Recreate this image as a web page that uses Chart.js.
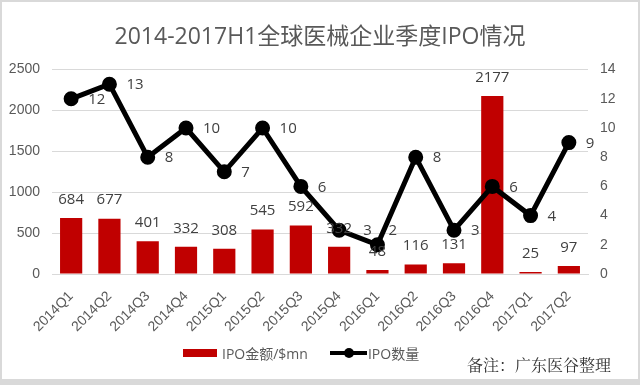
<!DOCTYPE html>
<html>
<head>
  <meta charset="UTF-8">
  <title>2014-2017H1全球医械企业季度IPO情况</title>
  <script src="https://cdn.jsdelivr.net/npm/chart.js"></script>
  <style>
    body { margin: 0; background: #d9d9d9; font-family: "Open Sans", "Noto Sans CJK SC", sans-serif; }
    #wrap { position: absolute; left: 2px; top: 2px; width: 636px; height: 377px; background: #fff; overflow: hidden; }
    #legend { position: absolute; top: 341px; left: 181px; display: flex; align-items: center; font-size: 14px; color: #595959; }
    .bar-key { width: 34px; height: 8px; background: #c00000; margin-right: 5px; }
    .line-key { position: relative; width: 37px; height: 4px; background: #000; margin: 0 1px 0 22px; }
    .line-key::after { content: ""; position: absolute; left: 14px; top: -3px; width: 10px; height: 10px; border-radius: 50%; background: #000; }
    #note { position: absolute; top: 351px; left: 465px; font-size: 16px; color: #333; font-family: "Noto Serif CJK SC", "Noto Sans CJK SC", serif; }
  </style>
</head>
<body>
  <div id="wrap">
    <canvas id="chart" width="636" height="377"></canvas>
    <div id="legend">
      <div class="bar-key"></div><span>IPO金额/$mn</span>
      <div class="line-key"></div><span>IPO数量</span>
    </div>
    <div id="note">备注：广东医谷整理</div>
  </div>
  <script>
    const quarters = ['2014Q1', '2014Q2', '2014Q3', '2014Q4', '2015Q1', '2015Q2', '2015Q3',
                      '2015Q4', '2016Q1', '2016Q2', '2016Q3', '2016Q4', '2017Q1', '2017Q2'];
    const ipoAmount = [684, 677, 401, 332, 308, 545, 592, 332, 48, 116, 131, 2177, 25, 97];
    const ipoCount = [12, 13, 8, 10, 7, 10, 6, 3, 2, 8, 3, 6, 4, 9];

    // value labels: bars above, line points to the right
    const valueLabels = {
      id: 'valueLabels',
      afterDatasetsDraw(chart) {
        const ctx = chart.ctx;
        ctx.save();
        ctx.font = '15px "Open Sans", sans-serif';
        ctx.fillStyle = '#404040';
        chart.getDatasetMeta(0).data.forEach((el, i) => {
          ctx.textAlign = 'center';
          ctx.textBaseline = 'bottom';
          ctx.fillText(ipoAmount[i], el.x, el.y - 11);
        });
        chart.getDatasetMeta(1).data.forEach((el, i) => {
          ctx.textAlign = 'left';
          ctx.textBaseline = 'middle';
          // the 2016Q1 label sits up a bit in the original, clear of the bar label
          const up = quarters[i] === '2016Q1' ? 15 : 0;
          const dx = quarters[i] === '2015Q4' ? 24 : 17;
          ctx.fillText(ipoCount[i], el.x + dx - (up ? 6 : 0), el.y + 1 - up);
        });
        ctx.restore();
      }
    };

    new Chart(document.getElementById('chart').getContext('2d'), {
      data: {
        labels: quarters,
        datasets: [
          {
            type: 'bar', label: 'IPO金额/$mn', data: ipoAmount, yAxisID: 'y',
            backgroundColor: '#c00000', barPercentage: 0.58, categoryPercentage: 1, order: 2
          },
          {
            type: 'line', label: 'IPO数量', data: ipoCount, yAxisID: 'y1',
            borderColor: '#000', backgroundColor: '#000', borderWidth: 5,
            pointRadius: 5, pointHoverRadius: 5, tension: 0, order: 1
          }
        ]
      },
      options: {
        responsive: false,
        animation: false,
        layout: { padding: { bottom: 39 } },
        plugins: {
          legend: { display: false },
          tooltip: { enabled: false },
          title: {
            display: true,
            text: '2014-2017H1全球医械企业季度IPO情况',
            color: '#595959',
            font: { size: 23, family: '"Open Sans", "Noto Sans CJK SC", sans-serif', weight: 'normal' },
            padding: { top: 22, bottom: 18 }
          }
        },
        scales: {
          x: {
            grid: { display: false },
            border: { color: '#d9d9d9' },
            ticks: { color: '#595959', font: { size: 14 }, maxRotation: 45, minRotation: 45, padding: 6 },
            afterFit: s => { s.height = 66; }
          },
          y: {
            position: 'left', min: 0, max: 2500,
            ticks: { stepSize: 500, color: '#595959', font: { size: 14 }, padding: 12, callback: v => String(v) },
            grid: { color: '#d9d9d9', drawTicks: false },
            border: { display: false },
            afterFit: s => { s.width = 50; }
          },
          y1: {
            position: 'right', min: 0, max: 14,
            ticks: { stepSize: 2, color: '#595959', font: { size: 14 }, padding: 12, callback: v => String(v) },
            grid: { display: false, drawTicks: false },
            border: { display: false },
            afterFit: s => { s.width = 50; }
          }
        }
      },
      plugins: [valueLabels]
    });
  </script>
</body>
</html>
